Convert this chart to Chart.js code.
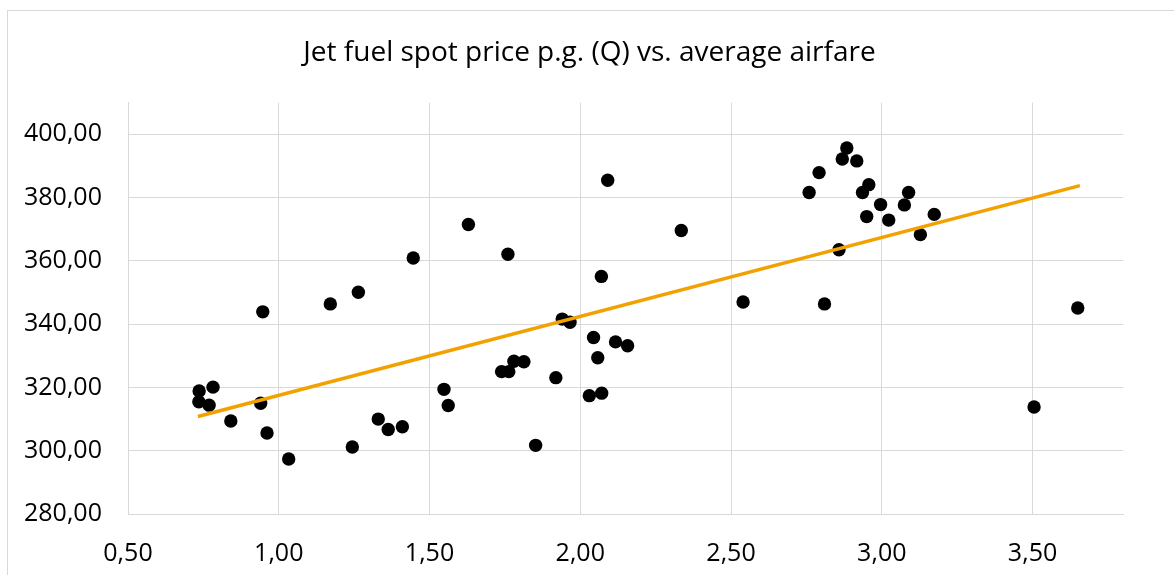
<!DOCTYPE html>
<html>
  <head>
    <meta charset="UTF-8">
    <title>Jet fuel vs airfare</title>
    <script src="https://cdn.jsdelivr.net/npm/chart.js@4.4.1/dist/chart.umd.min.js"></script>
    <style>
      body {
        margin: 0;
        background: #ffffff;
        overflow: hidden;
      }
      .chartFrame {
        position: absolute;
        left: 7px;
        top: 10px;
        width: 1200px;
        height: 600px;
        border: 1px solid #d9d9d9;
      }
      .chartWrapper {
        position: absolute;
        left: 8px;
        top: 11px;
        width: 1163px;
        height: 564px;
      }
    </style>
  </head>
  <body>
    <div class="chartFrame"></div>
    <div class="chartWrapper">
      <canvas id="chartFuel"></canvas>
    </div>

    <script>
      // jet fuel spot price per gallon (Q)
      const fuelPrice = [
        0.736, 0.735, 0.782, 0.769, 0.947, 0.940, 0.841, 0.961, 1.033, 1.171,
        1.264, 1.244, 1.330, 1.363, 1.410, 1.548, 1.562, 1.739, 1.763, 1.780,
        1.813, 1.919, 1.852, 1.940, 1.966, 1.629, 1.760, 2.335, 2.070, 2.044,
        2.117, 2.157, 2.058, 2.030, 2.071, 2.091, 1.446, 2.540, 2.810, 2.759,
        2.792, 2.884, 2.869, 2.917, 2.957, 2.936, 2.950, 2.996, 3.023, 2.858,
        3.089, 3.075, 3.174, 3.128, 3.650, 3.505
      ];
      // average airfare
      const airfare = [
        318.9, 315.5, 320.1, 314.4, 343.9, 315.0, 309.4, 305.6, 297.4, 346.4,
        350.1, 301.2, 310.0, 306.7, 307.6, 319.4, 314.3, 325.0, 325.0, 328.3,
        328.1, 323.1, 301.7, 341.6, 340.6, 371.5, 362.1, 369.6, 355.1, 335.8,
        334.4, 333.2, 329.4, 317.4, 318.2, 385.5, 360.9, 347.0, 346.4, 381.6,
        387.9, 395.7, 392.2, 391.6, 384.1, 381.6, 374.0, 377.8, 372.9, 363.5,
        381.6, 377.7, 374.7, 368.3, 345.1, 313.8
      ];
      // linear trendline end points
      const trendX = [0.732, 3.657];
      const trendY = [310.8, 383.8];

      const xTicks = [0.5, 1.0, 1.5, 2.0, 2.5, 3.0, 3.5];
      const yTicks = [280, 300, 320, 340, 360, 380, 400];

      const gridColor = '#d9d9d9';
      const tickFont = {family: 'Open Sans', size: 25};

      const commaFormat = (v) => Number(v).toFixed(2).replace('.', ',');

      const points = fuelPrice.map((x, i) => ({x: x, y: airfare[i]}));
      const trend = trendX.map((x, i) => ({x: x, y: trendY[i]}));

      new Chart(document.getElementById('chartFuel'), {
        type: 'scatter',
        data: {
          datasets: [{
            label: 'Average airfare',
            data: points,
            backgroundColor: '#000000',
            borderColor: '#000000',
            pointRadius: 6.7,
            pointHoverRadius: 6.7,
            borderWidth: 0,
            order: 2
          }, {
            type: 'line',
            label: 'Linear trend',
            data: trend,
            borderColor: '#f2a100',
            borderWidth: 3.5,
            pointRadius: 0,
            fill: false,
            order: 1
          }]
        },
        options: {
          responsive: true,
          maintainAspectRatio: false,
          animation: false,
          // equal side padding keeps the title centred on the frame
          layout: {
            padding: {left: 48, right: 48, top: 0, bottom: 0}
          },
          scales: {
            x: {
              type: 'linear',
              min: 0.5,
              max: 3.8,
              ticks: {
                stepSize: 0.5,
                padding: 25,
                color: '#000000',
                font: tickFont,
                callback: commaFormat
              },
              afterBuildTicks: (axis) => {
                axis.ticks = axis.ticks.filter(t => xTicks.some(v => Math.abs(v - t.value) < 1e-6));
              },
              afterFit: (axis) => { axis.height = 61; },
              grid: {color: gridColor, lineWidth: 1, drawTicks: false},
              border: {color: gridColor, width: 1}
            },
            y: {
              min: 280,
              max: 410,
              ticks: {
                stepSize: 20,
                // mirrored labels are not clipped to the narrow axis box
                mirror: true,
                crossAlign: 'near',
                padding: -104,
                color: '#000000',
                font: tickFont,
                callback: commaFormat
              },
              afterBuildTicks: (axis) => {
                axis.ticks = axis.ticks.filter(t => yTicks.includes(t.value));
              },
              afterFit: (axis) => { axis.width = 72; },
              grid: {color: gridColor, lineWidth: 1, drawTicks: false},
              border: {color: gridColor, width: 1}
            }
          },
          plugins: {
            legend: {display: false},
            tooltip: {enabled: false},
            title: {
              display: true,
              text: 'Jet fuel spot price p.g. (Q) vs. average airfare',
              color: '#000000',
              font: {family: 'Open Sans', size: 28, weight: 'normal', lineHeight: 1.2},
              padding: {top: 25, bottom: 33.1}
            }
          }
        }
      });
    </script>
  </body>
</html>
